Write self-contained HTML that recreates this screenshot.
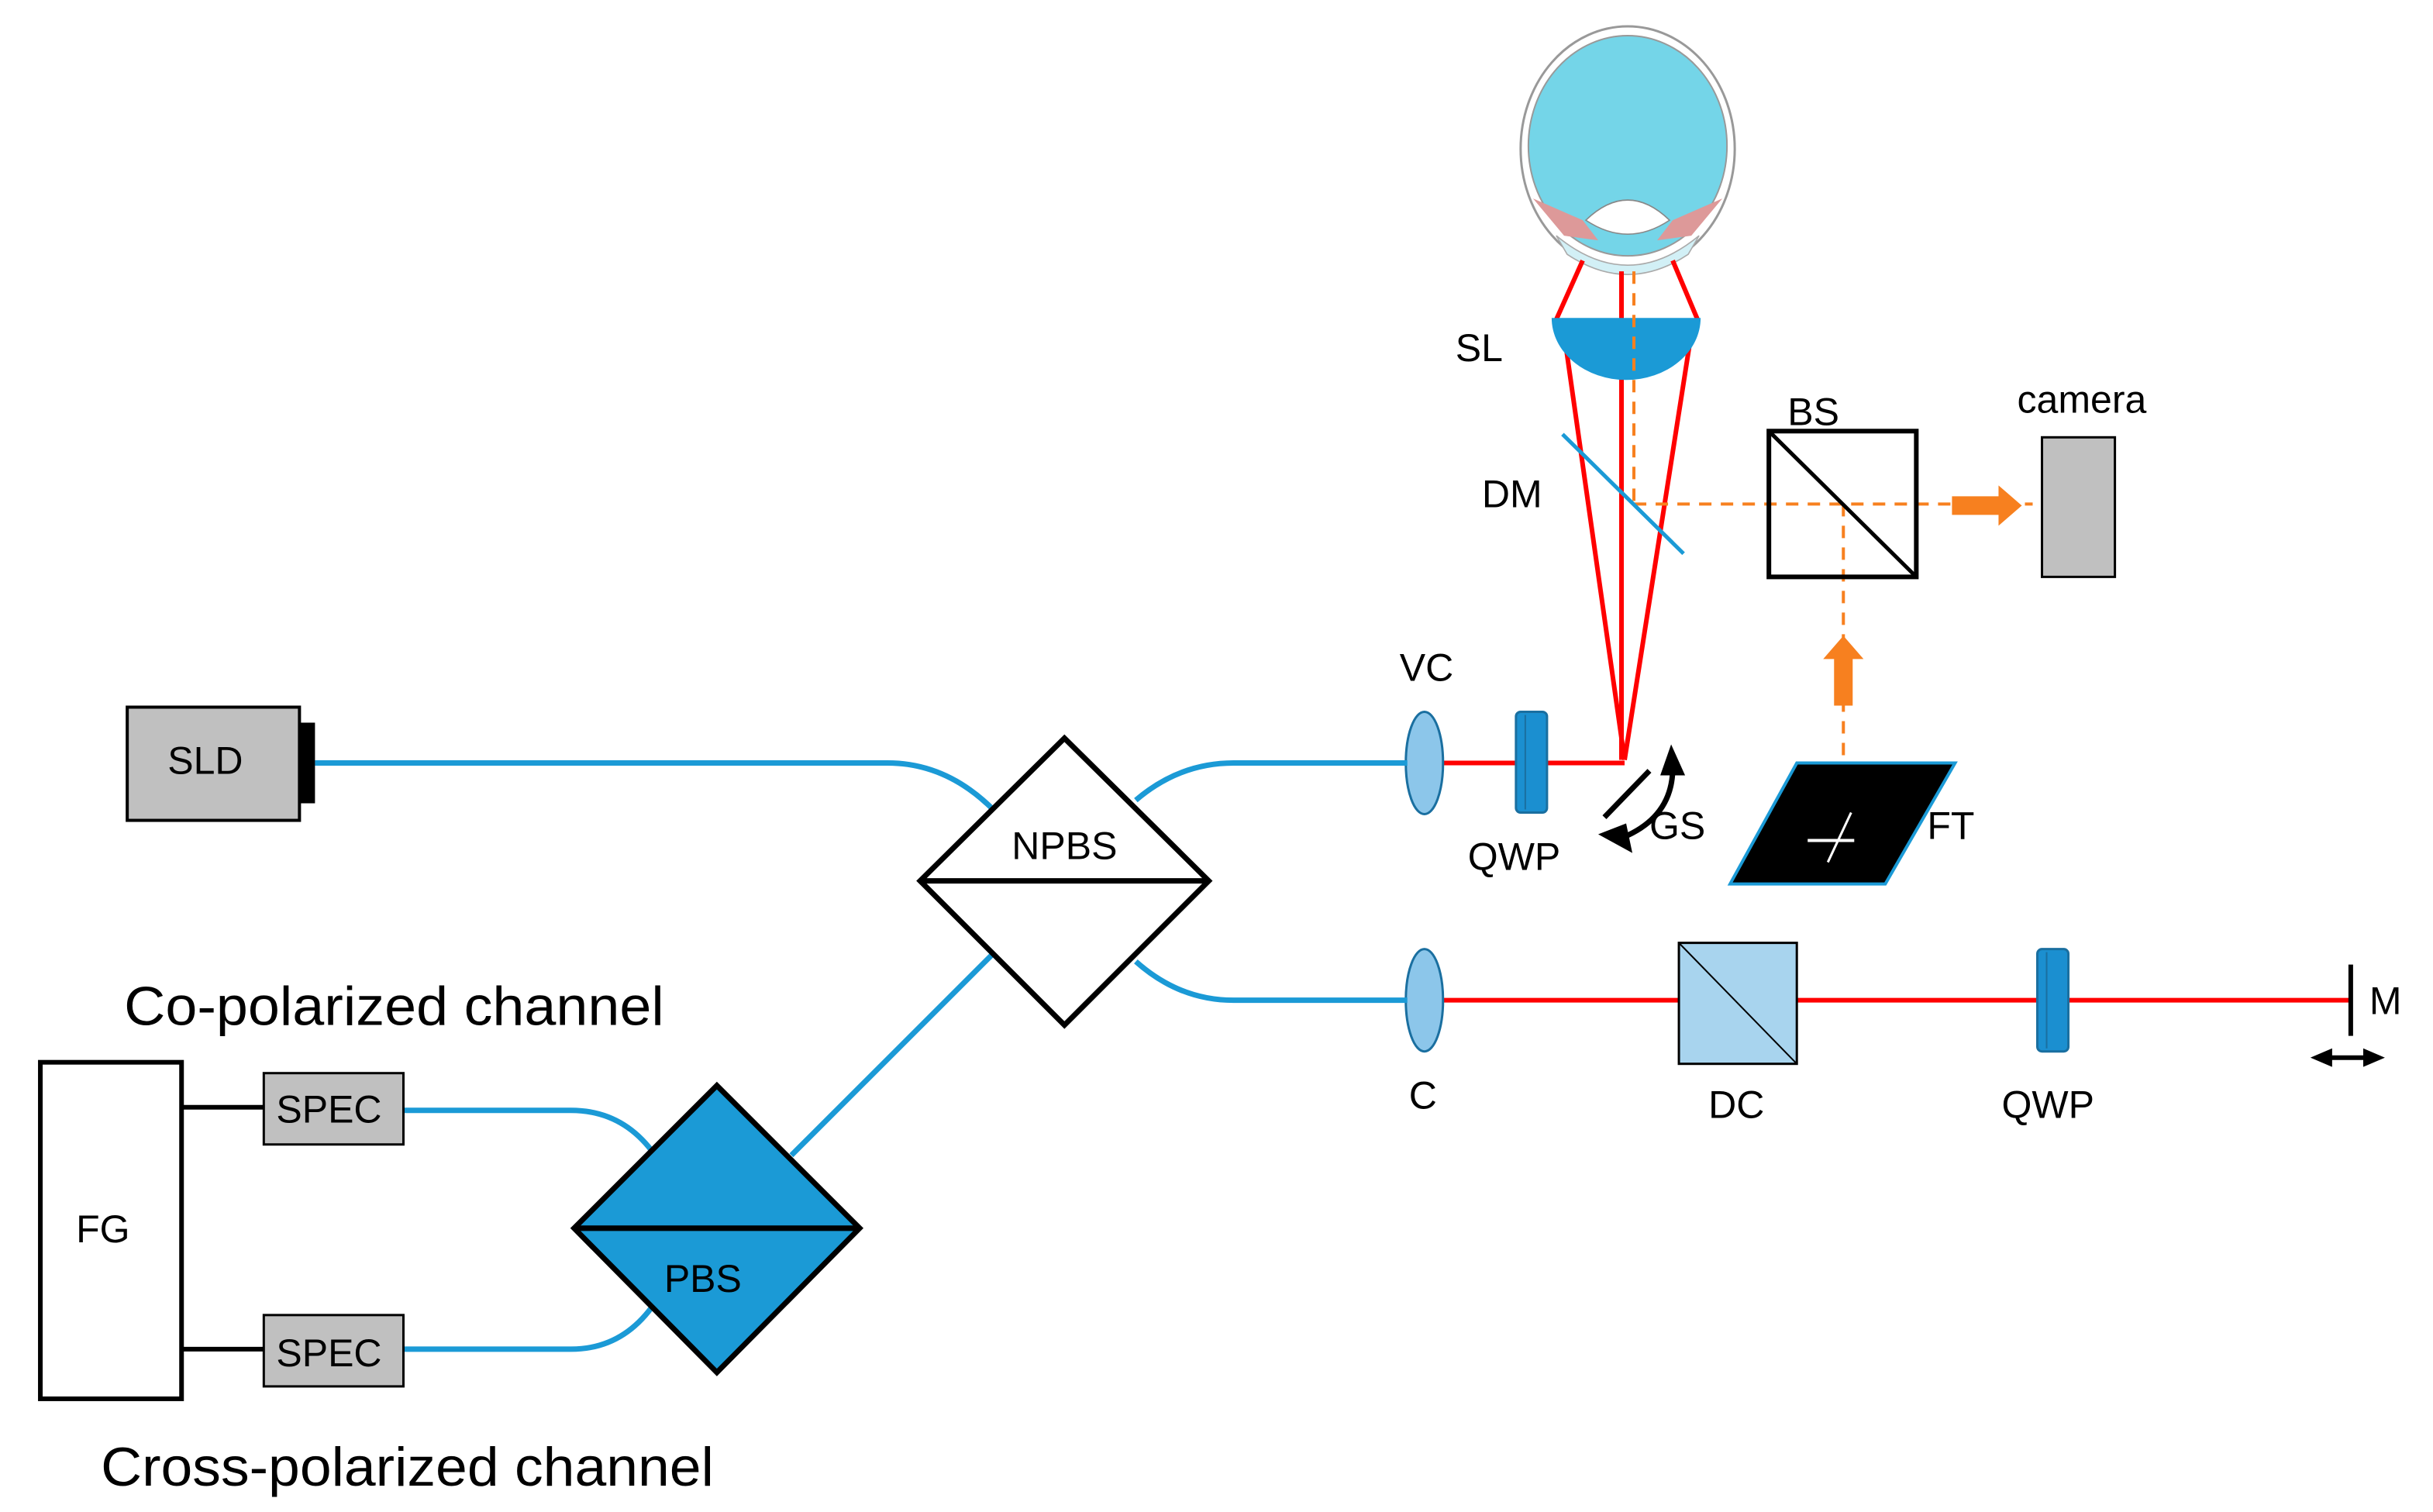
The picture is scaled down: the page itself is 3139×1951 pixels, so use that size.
<!DOCTYPE html>
<html><head><meta charset="utf-8"><style>
html,body{margin:0;padding:0;background:#fff;}
svg{display:block;}
text{font-family:"Liberation Sans",sans-serif;fill:#000;}
</style></head><body>
<svg width="3139" height="1951" viewBox="0 0 1568 975" preserveAspectRatio="none" xmlns="http://www.w3.org/2000/svg">
<defs>
<marker id="ah" markerWidth="14" markerHeight="12" refX="7" refY="6" orient="auto-start-reverse" markerUnits="userSpaceOnUse"><path d="M0,0 L14,6 L0,12 z" fill="#000"/></marker>
</defs>
<!-- Eye -->
<ellipse cx="1049" cy="96" rx="69" ry="79" fill="#fff" stroke="#999" stroke-width="1.5"/>
<ellipse cx="1049" cy="94" rx="64" ry="71" fill="#74d5e8" stroke="#999" stroke-width="1"/>
<path d="M1003,152 Q1049,190 1095,152 L1088,164 Q1049,190 1010,164 z" fill="#d2f0f6" stroke="#aaa" stroke-width="0.8"/>
<path d="M1022,142 Q1049,116 1076,142 Q1049,160 1022,142 z" fill="#fff" stroke="#888" stroke-width="0.8"/>
<path d="M988,128 L1020,142 L1030,155 L1008,152 z" fill="#d99" />
<path d="M1110,128 L1078,142 L1068,155 L1090,152 z" fill="#d99" />
<!-- red rays -->
<g stroke="#f00" stroke-width="3" fill="none">
<line x1="1020" y1="168" x2="1003" y2="206"/>
<line x1="1078" y1="168" x2="1094" y2="206"/>
<line x1="1045" y1="175" x2="1045" y2="490"/>
<line x1="1008" y1="215" x2="1047" y2="490"/>
<line x1="1090" y1="215" x2="1047" y2="490"/>
<line x1="930" y1="492" x2="1047" y2="492"/>
<line x1="930" y1="645" x2="1515" y2="645"/>
</g>
<!-- SL -->
<path d="M1000,205 L1096,205 A48,40 0 0 1 1000,205 z" fill="#1b9ad6"/>
<!-- orange dashed -->
<g stroke="#f7801f" stroke-width="2" stroke-dasharray="8,6" fill="none">
<line x1="1053" y1="175" x2="1053" y2="325"/>
<line x1="1053" y1="325" x2="1310" y2="325"/>
<line x1="1188" y1="325" x2="1188" y2="540"/>
</g>
<!-- DM -->
<line x1="1007" y1="280" x2="1085" y2="357" stroke="#1b9ad6" stroke-width="2.5"/>
<!-- BS -->
<rect x="1140" y="278" width="95" height="94" fill="none" stroke="#000" stroke-width="3"/>
<line x1="1140" y1="278" x2="1235" y2="372" stroke="#000" stroke-width="2.5"/>
<!-- orange arrows -->
<path d="M1258,320 L1288,320 L1288,313 L1303,326 L1288,339 L1288,332 L1258,332 z" fill="#f7801f"/>
<path d="M1182,455 L1182,425 L1175,425 L1188,410 L1201,425 L1194,425 L1194,455 z" fill="#f7801f"/>
<!-- camera -->
<rect x="1316" y="282" width="47" height="90" fill="#c0c0c0" stroke="#000" stroke-width="1.5"/>
<!-- FT -->
<path d="M1115,570 L1158,492 L1260,492 L1215,570 z" fill="#000" stroke="#1b9ad6" stroke-width="2"/>
<line x1="1165" y1="542" x2="1195" y2="542" stroke="#fff" stroke-width="2"/>
<line x1="1178" y1="556" x2="1193" y2="524" stroke="#fff" stroke-width="1.5"/>
<!-- GS -->
<line x1="1034" y1="527" x2="1063" y2="497" stroke="#000" stroke-width="3.5"/>
<path d="M1078,497 Q1077,527 1046,540" stroke="#000" stroke-width="3.5" fill="none"/>
<path d="M1070,500 L1077,480 L1086,500 z" fill="#000"/>
<path d="M1048,531 L1030,538 L1052,550 z" fill="#000"/>
<!-- VC and C lenses -->
<ellipse cx="918" cy="492" rx="12" ry="33" fill="#8cc6ea" stroke="#1a6fa0" stroke-width="1.5"/>
<ellipse cx="918" cy="645" rx="12" ry="33" fill="#8cc6ea" stroke="#1a6fa0" stroke-width="1.5"/>
<!-- QWPs -->
<rect x="977" y="459" width="20" height="65" rx="3" fill="#1b8fd0" stroke="#1a6fa0" stroke-width="1.5"/>
<line x1="983" y1="461" x2="983" y2="522" stroke="#1a6fa0" stroke-width="1"/>
<rect x="1313" y="612" width="20" height="66" rx="3" fill="#1b8fd0" stroke="#1a6fa0" stroke-width="1.5"/>
<line x1="1319" y1="614" x2="1319" y2="676" stroke="#1a6fa0" stroke-width="1"/>
<!-- DC -->
<rect x="1082" y="608" width="76" height="78" fill="#a8d4ee" stroke="#000" stroke-width="1.5"/>
<line x1="1082" y1="608" x2="1158" y2="686" stroke="#000" stroke-width="1"/>
<!-- M -->
<line x1="1515" y1="622" x2="1515" y2="668" stroke="#000" stroke-width="3"/>
<line x1="1496" y1="682" x2="1530" y2="682" stroke="#000" stroke-width="3" marker-end="url(#ah)" marker-start="url(#ah)"/>
<!-- fibers -->
<g stroke="#1b9ad6" stroke-width="3.5" fill="none">
<path d="M203,492 L572,492 Q610,492 640,522"/>
<path d="M732,516 Q760,492 795,492 L907,492"/>
<path d="M732,620 Q760,645 795,645 L907,645"/>
<path d="M510,745 L640,615"/>
<path d="M260,716 L368,716 Q400,716 420,742"/>
<path d="M260,870 L368,870 Q400,870 420,843"/>
</g>
<!-- NPBS -->
<path d="M686,476 L779,568 L686,661 L593,568 z" fill="#fff" stroke="#000" stroke-width="3.5"/>
<line x1="593" y1="568" x2="779" y2="568" stroke="#000" stroke-width="3.5"/>
<!-- PBS -->
<path d="M462,700 L554,792 L462,885 L370,792 z" fill="#1b9ad6" stroke="#000" stroke-width="3.5"/>
<line x1="370" y1="792" x2="554" y2="792" stroke="#000" stroke-width="3.5"/>
<!-- SLD -->
<rect x="82" y="456" width="111" height="73" fill="#c0c0c0" stroke="#000" stroke-width="2"/>
<rect x="193" y="466" width="10" height="52" fill="#000"/>
<!-- SPEC, FG -->
<rect x="170" y="692" width="90" height="46" fill="#c0c0c0" stroke="#000" stroke-width="1.5"/>
<rect x="170" y="848" width="90" height="46" fill="#c0c0c0" stroke="#000" stroke-width="1.5"/>
<rect x="26" y="685" width="91" height="217" fill="#fff" stroke="#000" stroke-width="3"/>
<line x1="117" y1="714" x2="170" y2="714" stroke="#000" stroke-width="3"/>
<line x1="117" y1="870" x2="170" y2="870" stroke="#000" stroke-width="3"/>
<!-- labels -->
<g font-size="25">
<text x="108" y="499">SLD</text>
<text x="652" y="554">NPBS</text>
<text x="428" y="833">PBS</text>
<text x="178" y="724">SPEC</text>
<text x="178" y="881">SPEC</text>
<text x="49" y="801">FG</text>
<text x="938" y="233">SL</text>
<text x="955" y="327">DM</text>
<text x="1152" y="274">BS</text>
<text x="1300" y="266">camera</text>
<text x="902" y="439">VC</text>
<text x="946" y="561">QWP</text>
<text x="1063" y="541">GS</text>
<text x="1242" y="541">FT</text>
<text x="908" y="715">C</text>
<text x="1101" y="721">DC</text>
<text x="1290" y="721">QWP</text>
<text x="1527" y="654">M</text>
</g>
<text x="80" y="661" font-size="35" textLength="348" lengthAdjust="spacingAndGlyphs">Co-polarized channel</text>
<text x="65" y="958" font-size="35" textLength="395" lengthAdjust="spacingAndGlyphs">Cross-polarized channel</text>
</svg>
</body></html>
